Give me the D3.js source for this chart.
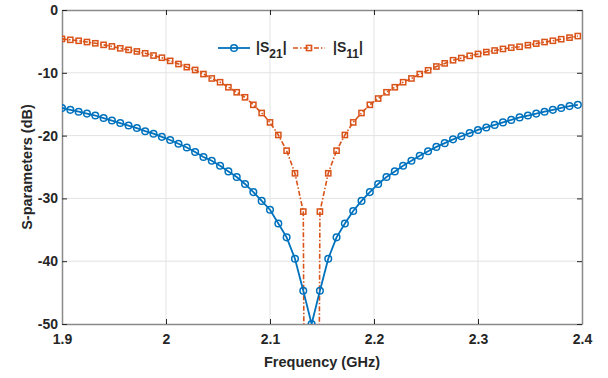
<!DOCTYPE html>
<html>
<head>
<meta charset="utf-8">
<script src="https://cdn.jsdelivr.net/npm/d3@7"></script>
<style>
  body { margin: 0; background: #fff; }
  text { font-family: 'Liberation Sans', Arial, sans-serif; font-weight: bold; fill: #262626; }
</style>
</head>
<body>
<div id="chart"></div>
<script>
// frequency points (GHz)
const freq = [1.900, 1.908, 1.916, 1.924, 1.932, 1.940, 1.948, 1.956, 1.964, 1.972,
  1.980, 1.988, 1.996, 2.004, 2.012, 2.020, 2.028, 2.036, 2.044, 2.052,
  2.060, 2.068, 2.076, 2.084, 2.092, 2.100, 2.108, 2.116, 2.124, 2.132,
  2.140, 2.148, 2.156, 2.164, 2.172, 2.180, 2.188, 2.196, 2.204, 2.212,
  2.220, 2.228, 2.236, 2.244, 2.252, 2.260, 2.268, 2.276, 2.284, 2.292,
  2.300, 2.308, 2.316, 2.324, 2.332, 2.340, 2.348, 2.356, 2.364, 2.372,
  2.380, 2.388, 2.396]
// |S21| (dB)
const s21 = [-15.6, -15.9, -16.2, -16.5, -16.8, -17.2, -17.6, -18.0, -18.4, -18.8,
  -19.3, -19.7, -20.2, -20.7, -21.3, -21.9, -22.6, -23.4, -24.0, -24.8,
  -25.7, -26.6, -27.7, -29.0, -30.4, -31.8, -34.0, -36.2, -39.6, -44.7,
  -50.0, -44.7, -39.6, -36.2, -34.0, -32.0, -30.4, -29.0, -27.7, -26.6,
  -25.7, -24.8, -24.0, -23.2, -22.5, -21.8, -21.2, -20.6, -20.1, -19.6,
  -19.1, -18.7, -18.3, -17.9, -17.5, -17.1, -16.8, -16.5, -16.2, -15.9,
  -15.6, -15.3, -15.1]
// |S11| (dB), centre point far below the axis
const s11 = [-4.6, -4.75, -4.9, -5.1, -5.3, -5.55, -5.8, -6.1, -6.35, -6.6,
  -6.9, -7.25, -7.6, -8.1, -8.6, -9.1, -9.55, -10.2, -10.9, -11.5,
  -12.3, -13.1, -13.9, -15.1, -16.4, -17.9, -19.9, -22.4, -26.0, -32.1,
  -300, -32.1, -26.0, -22.4, -19.9, -17.9, -16.4, -15.1, -14.1, -13.1,
  -12.3, -11.5, -10.9, -10.2, -9.6, -9.0, -8.5, -8.0, -7.65, -7.3,
  -7.0, -6.7, -6.45, -6.2, -6.0, -5.85, -5.6, -5.35, -5.1, -4.9,
  -4.65, -4.4, -4.15]
const xTicks = [1.9, 2, 2.1, 2.2, 2.3, 2.4]
const yTicks = [0, -10, -20, -30, -40, -50]

const W = 608, H = 378
const margin = {top: 10, right: 26, bottom: 54, left: 62},
  width = W - margin.left - margin.right,
  height = H - margin.top - margin.bottom

const svg = d3.select('#chart').append('svg')
  .attr('width', W)
  .attr('height', H)
const g = svg.append('g')
  .attr('transform', `translate(${margin.left}, ${margin.top})`)

const x = d3.scaleLinear().domain([1.9, 2.4]).range([0, width])
const y = d3.scaleLinear().domain([-50, 0]).range([height, 0])

svg.append('defs').append('clipPath').attr('id', 'plot-clip')
  .append('rect').attr('width', width).attr('height', height)

// grid
g.append('g').selectAll('line').data(xTicks.slice(1, -1))
  .enter().append('line')
  .attr('x1', d => x(d)).attr('x2', d => x(d))
  .attr('y1', 0).attr('y2', height)
  .attr('stroke', '#e3e3e3').attr('stroke-width', 1)
g.append('g').selectAll('line').data(yTicks.slice(1, -1))
  .enter().append('line')
  .attr('y1', d => y(d)).attr('y2', d => y(d))
  .attr('x1', 0).attr('x2', width)
  .attr('stroke', '#e3e3e3').attr('stroke-width', 1)

// axes (plain hyphen for negatives, like the original)
const fmt = d => String(d)
const xAxis = g.append('g')
  .attr('transform', `translate(0, ${height})`)
  .call(d3.axisBottom(x).tickValues(xTicks).tickFormat(fmt).tickSizeInner(-5).tickSizeOuter(0).tickPadding(10))
const xTop = g.append('g')
  .call(d3.axisTop(x).tickValues(xTicks).tickFormat('').tickSizeInner(-5).tickSizeOuter(0))
const yAxis = g.append('g')
  .call(d3.axisLeft(y).tickValues(yTicks).tickFormat(fmt).tickSizeInner(-5).tickSizeOuter(0).tickPadding(4))
const yRight = g.append('g')
  .attr('transform', `translate(${width}, 0)`)
  .call(d3.axisRight(y).tickValues(yTicks).tickFormat('').tickSizeInner(-5).tickSizeOuter(0))
for (const ax of [xAxis, xTop, yAxis, yRight]) {
  ax.select('.domain').attr('stroke', '#8a8a8a').attr('stroke-width', 1.5)
  ax.selectAll('.tick line').attr('stroke', '#262626')
  ax.selectAll('text').style('font-size', '14px').attr('fill', '#262626')
}
xAxis.selectAll('text').attr('dy', '0.71em')

// series
const plot = g.append('g').attr('clip-path', 'url(#plot-clip)')
const line = d3.line().x(d => x(d[0])).y(d => y(d[1]))
const s21Pts = freq.map((f, i) => [f, s21[i]])
const s11Pts = freq.map((f, i) => [f, s11[i]])

plot.append('path').datum(s11Pts)
  .attr('d', line)
  .attr('fill', 'none')
  .attr('stroke', '#D95319')
  .attr('stroke-width', 1.6)
  .attr('stroke-dasharray', '5,2,1.5,2')
plot.append('g').selectAll('rect').data(s11Pts.filter(d => d[1] > -50))
  .enter().append('rect')
  .attr('x', d => x(d[0]) - 2.6).attr('y', d => y(d[1]) - 2.6)
  .attr('width', 5.2).attr('height', 5.2)
  .attr('fill', 'none').attr('stroke', '#D95319').attr('stroke-width', 1.5)

plot.append('path').datum(s21Pts)
  .attr('d', line)
  .attr('fill', 'none')
  .attr('stroke', '#0072BD')
  .attr('stroke-width', 1.8)
plot.append('g').selectAll('circle').data(s21Pts)
  .enter().append('circle')
  .attr('cx', d => x(d[0])).attr('cy', d => y(d[1]))
  .attr('r', 3.3)
  .attr('fill', 'none').attr('stroke', '#0072BD').attr('stroke-width', 1.5)

// legend
const lg = svg.append('g').attr('transform', 'translate(218, 48)')
lg.append('line').attr('x1', 0).attr('x2', 32).attr('y1', 0).attr('y2', 0)
  .attr('stroke', '#0072BD').attr('stroke-width', 1.8)
lg.append('circle').attr('cx', 16).attr('cy', 0).attr('r', 3.3)
  .attr('fill', 'none').attr('stroke', '#0072BD').attr('stroke-width', 1.5)
const t1 = lg.append('text').attr('x', 38).attr('y', 4).style('font-size', '14px')
t1.append('tspan').text('|S')
t1.append('tspan').text('21').attr('dy', 6).style('font-size', '12px')
t1.append('tspan').text('|').attr('dy', -6)
lg.append('line').attr('x1', 75).attr('x2', 107).attr('y1', 0).attr('y2', 0)
  .attr('stroke', '#D95319').attr('stroke-width', 1.6).attr('stroke-dasharray', '5,2,1.5,2')
lg.append('rect').attr('x', 91 - 2.6).attr('y', -2.6).attr('width', 5.2).attr('height', 5.2)
  .attr('fill', 'none').attr('stroke', '#D95319').attr('stroke-width', 1.5)
const t2 = lg.append('text').attr('x', 115).attr('y', 4).style('font-size', '14px')
t2.append('tspan').text('|S')
t2.append('tspan').text('11').attr('dy', 6).style('font-size', '12px')
t2.append('tspan').text('|').attr('dy', -6)

// axis labels
svg.append('text')
  .attr('x', margin.left + width / 2).attr('y', 367)
  .attr('text-anchor', 'middle')
  .style('font-size', '14.5px')
  .text('Frequency (GHz)')
svg.append('text')
  .attr('transform', `translate(32, ${margin.top + height / 2}) rotate(-90)`)
  .attr('text-anchor', 'middle')
  .style('font-size', '14.5px')
  .text('S-parameters (dB)')
</script>
</body>
</html>
